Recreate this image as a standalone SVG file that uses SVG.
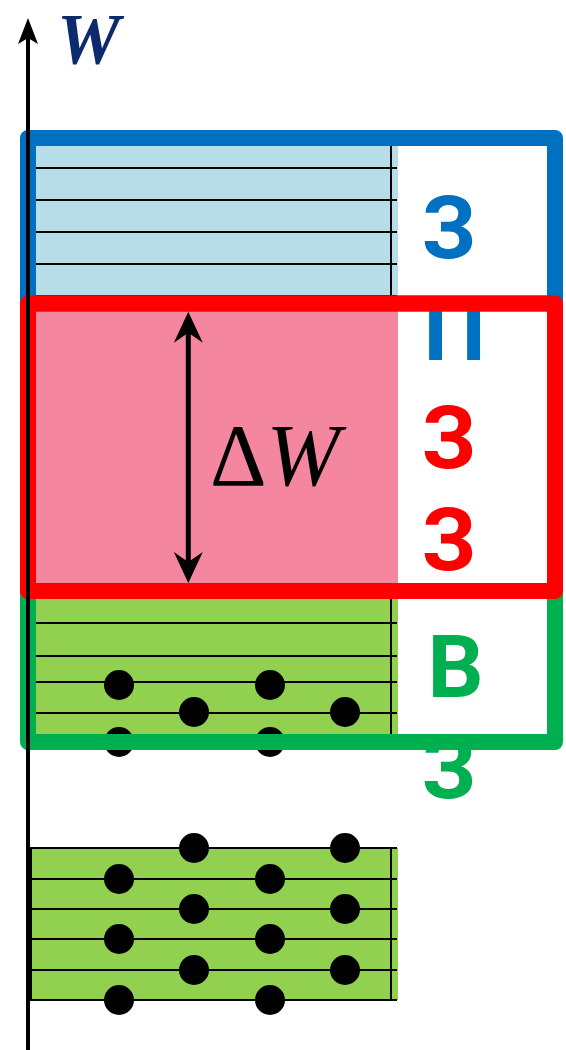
<svg xmlns="http://www.w3.org/2000/svg" width="566" height="1050" viewBox="0 0 566 1050">
  <style>
    .level { stroke: #000; stroke-width: 2; fill: none; }
    .dot { fill: #000; }
    .band-frame { fill: none; stroke-width: 16; stroke-linejoin: round; }
    .zone { font-family: Roboto, "Liberation Sans", sans-serif; font-weight: bold; font-size: 88px; text-anchor: middle; }
    .math { font-family: "Liberation Serif", "DejaVu Serif", serif; }
    .arrow { stroke: #000; fill: none; }
  </style>
  <defs>
    <marker id="axis-head" markerUnits="userSpaceOnUse" viewBox="-16 -12 30 24" markerWidth="30" markerHeight="24" refX="0" refY="0" orient="auto">
      <path d="M12,0 L-14,-10 L-8,0 L-14,10 Z" fill="#000"/>
    </marker>
    <marker id="gap-head" markerUnits="userSpaceOnUse" viewBox="-18 -16 36 32" markerWidth="36" markerHeight="32" refX="0" refY="0" orient="auto-start-reverse">
      <path d="M15,0 L-16,-14.5 L-6,0 L-16,14.5 Z" fill="#000"/>
    </marker>
  </defs>

  <!-- conduction band: filled levels -->
  <g id="conduction-band">
    <rect x="30" y="146" width="368" height="158" fill="#b7dde8"/>
    <line class="level" x1="36" y1="168" x2="397" y2="168"/>
    <line class="level" x1="36" y1="200" x2="397" y2="200"/>
    <line class="level" x1="36" y1="232" x2="397" y2="232"/>
    <line class="level" x1="36" y1="264" x2="397" y2="264"/>
    <line class="level" x1="36" y1="296" x2="397" y2="296"/>
    <line class="level" x1="391" y1="146" x2="391" y2="304"/>
  </g>

  <!-- forbidden gap -->
  <g id="forbidden-gap">
    <rect x="30" y="303" width="368" height="288" fill="#f4879f"/>
  </g>

  <!-- valence band inside the frame -->
  <g id="valence-band">
    <rect x="30" y="591" width="368" height="151" fill="#92d050"/>
    <line class="level" x1="36" y1="623" x2="397" y2="623"/>
    <line class="level" x1="36" y1="656" x2="397" y2="656"/>
    <line class="level" x1="36" y1="682" x2="397" y2="682"/>
    <line class="level" x1="36" y1="713" x2="397" y2="713"/>
    <line class="level" x1="391" y1="598" x2="391" y2="742"/>
    <circle class="dot" cx="119" cy="685" r="15"/>
    <circle class="dot" cx="270" cy="685" r="15"/>
    <circle class="dot" cx="194" cy="712" r="15"/>
    <circle class="dot" cx="345" cy="712" r="15"/>
    <circle class="dot" cx="119" cy="742" r="15"/>
    <circle class="dot" cx="270" cy="742" r="15"/>
  </g>

  <!-- band frames -->
  <g id="frame-conduction">
    <rect class="band-frame" x="28" y="138" width="527" height="165.5" stroke="#0070c0"/>
  </g>
  <g id="frame-valence">
    <rect class="band-frame" x="28" y="591" width="527" height="151" stroke="#00b050"/>
  </g>

  <!-- zone labels -->
  <g id="label-conduction" class="zone" fill="#0070c0">
    <text x="449" y="258">З</text>
    <text x="454.5" y="360">П</text>
  </g>
  <g id="label-valence" class="zone" fill="#00b050">
    <text x="455.5" y="697">В</text>
    <text x="449" y="798">З</text>
  </g>

  <g id="frame-gap">
    <rect class="band-frame" x="28" y="303.5" width="527" height="287.5" stroke="#ff0000"/>
  </g>
  <g id="label-gap" class="zone" fill="#ff0000">
    <text x="449" y="468">З</text>
    <text x="449" y="570">З</text>
  </g>

  <!-- deeper valence levels, fully occupied -->
  <g id="valence-deep">
    <rect x="31" y="848" width="367" height="152" fill="#92d050"/>
    <line class="level" x1="30" y1="848" x2="397" y2="848"/>
    <line class="level" x1="30" y1="879" x2="397" y2="879"/>
    <line class="level" x1="30" y1="909" x2="397" y2="909"/>
    <line class="level" x1="30" y1="939" x2="397" y2="939"/>
    <line class="level" x1="30" y1="970" x2="397" y2="970"/>
    <line class="level" x1="30" y1="1000" x2="397" y2="1000"/>
    <line class="level" x1="31" y1="848" x2="31" y2="1000"/>
    <line class="level" x1="391" y1="848" x2="391" y2="1000"/>
    <circle class="dot" cx="194" cy="848" r="15"/>
    <circle class="dot" cx="345" cy="848" r="15"/>
    <circle class="dot" cx="119" cy="879" r="15"/>
    <circle class="dot" cx="270" cy="879" r="15"/>
    <circle class="dot" cx="194" cy="909" r="15"/>
    <circle class="dot" cx="345" cy="909" r="15"/>
    <circle class="dot" cx="119" cy="939" r="15"/>
    <circle class="dot" cx="270" cy="939" r="15"/>
    <circle class="dot" cx="194" cy="970" r="15"/>
    <circle class="dot" cx="345" cy="970" r="15"/>
    <circle class="dot" cx="119" cy="1000" r="15"/>
    <circle class="dot" cx="270" cy="1000" r="15"/>
  </g>

  <!-- energy axis and gap width -->
  <g id="connectors">
    <line class="arrow" x1="28" y1="1050" x2="28" y2="30" stroke-width="4" marker-end="url(#axis-head)"/>
    <line class="arrow" x1="188.3" y1="326.7" x2="188.3" y2="568" stroke-width="5" marker-start="url(#gap-head)" marker-end="url(#gap-head)"/>
  </g>

  <g id="axis-label">
    <text class="math" x="57" y="63" font-size="71" font-style="italic" font-weight="bold" fill="#0e2a6e">W</text>
  </g>
  <g id="gap-label">
    <text class="math" x="210" y="485" font-size="88" fill="#000">Δ<tspan font-style="italic">W</tspan></text>
  </g>
</svg>
